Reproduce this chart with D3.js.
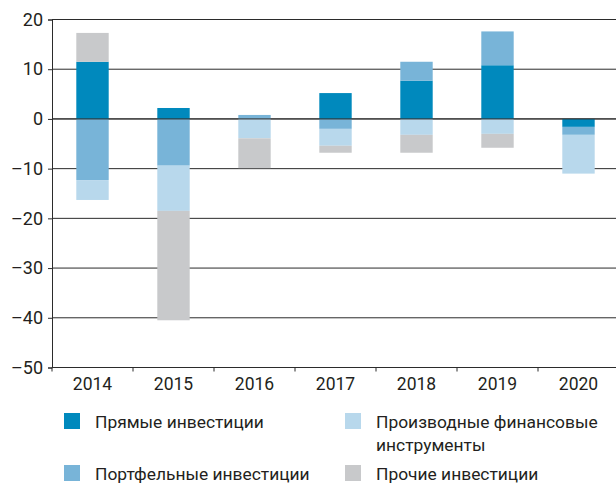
<!DOCTYPE html>
<html>
    <head>
        <meta charset="utf-8">
        <script src="https://cdn.jsdelivr.net/npm/d3@7/dist/d3.min.js"></script>
        <style>
            body { margin: 0; background: #fff; }
            text { font-family: Roboto, "Noto Sans", sans-serif; fill: #231f20; }
        </style>
    </head>
    <body>
        <svg width="616" height="484"></svg>
        <script>

        // data, bn USD
        var years = ["2014", "2015", "2016", "2017", "2018", "2019", "2020"];
        var direct      = [11.5,   2.2,  0.0,  5.2,  7.7, 10.8, -1.6];
        var portfolio   = [-12.3, -9.4,  0.8, -2.0,  3.8,  6.8, -1.6];
        var derivatives = [-4.0,  -9.1, -3.9, -3.4, -3.2, -3.0, -7.8];
        var other       = [5.8,  -22.0, -6.0, -1.4, -3.6, -2.8,  0.0];
        var yTicks = [20, 10, 0, -10, -20, -30, -40, -50];

        var seriesNames = ["Прямые инвестиции", "Портфельные инвестиции",
                           "Производные финансовые инструменты", "Прочие инвестиции"];
        var colors = ["#0089bd", "#78b4d8", "#b8d8ec", "#c8c9cb"];

        var keys = ["direct", "portfolio", "derivatives", "other"];
        var table = years.map(function(y, i) {
            return {year: y, direct: direct[i], portfolio: portfolio[i],
                    derivatives: derivatives[i], other: other[i]};
        });

        var svg = d3.select("svg");

        var x = d3.scaleBand()
            .domain(years)
            .range([52, 619])
            .paddingInner(0.6)
            .paddingOuter(0.3);

        var y = d3.scaleLinear()
            .domain([-50, 20])
            .range([367.5, 19.5]);

        var stack = d3.stack()
            .keys(keys)
            .offset(d3.stackOffsetDiverging);

        // grid lines
        svg.append("g")
            .selectAll("line")
            .data(yTicks)
            .enter().append("line")
              .attr("x1", 52)
              .attr("x2", 616)
              .attr("y1", function(d) { return y(d); })
              .attr("y2", function(d) { return y(d); })
              .attr("stroke", "#2b2b2b")
              .attr("stroke-width", 1);

        // bars
        svg.append("g")
            .selectAll("g")
            .data(stack(table))
            .enter().append("g")
              .attr("fill", function(d, i) { return colors[i]; })
            .selectAll("rect")
            .data(function(d) { return d; })
            .enter().append("rect")
              .attr("x", function(d) { return x(d.data.year); })
              .attr("width", x.bandwidth())
              .attr("y", function(d) { return y(Math.max(d[0], d[1])); })
              .attr("height", function(d) { return Math.abs(y(d[0]) - y(d[1])); });

        // zero line over the bars
        svg.append("line")
            .attr("x1", 52).attr("x2", 616)
            .attr("y1", y(0)).attr("y2", y(0))
            .attr("stroke", "#2b2b2b");

        // y axis
        var yAxis = svg.append("g")
            .attr("transform", "translate(52,0)")
            .call(d3.axisLeft(y).tickValues(yTicks).tickSize(4).tickPadding(5)
                .tickFormat(function(d) { return d < 0 ? "\u2013" + Math.abs(d) : d; }));
        yAxis.select(".domain").attr("stroke", "#2b2b2b");
        yAxis.selectAll(".tick line").attr("stroke", "#2b2b2b");
        yAxis.selectAll("text")
            .style("font-size", "18px")
            .attr("fill", "#231f20");

        // x axis: labels centred, ticks between years
        var xAxis = svg.append("g")
            .attr("transform", "translate(0," + y(-50) + ")")
            .call(d3.axisBottom(x).tickSize(0).tickPadding(10));
        xAxis.select(".domain").remove();
        xAxis.selectAll("text")
            .style("font-size", "17.5px")
            .attr("fill", "#231f20");

        var edge = x.step() * x.paddingOuter();
        svg.append("g")
            .selectAll("line")
            .data(years)
            .enter().append("line")
              .attr("x1", function(d) { return x(d) - edge; })
              .attr("x2", function(d) { return x(d) - edge; })
              .attr("y1", y(-50))
              .attr("y2", y(-50) + 4)
              .attr("stroke", "#2b2b2b");

        // legend
        var legendPos = [
            {x: 64, y: 413}, {x: 64, y: 465},
            {x: 345, y: 413}, {x: 345, y: 465}
        ];
        var legend = svg.append("g")
            .selectAll("g")
            .data(seriesNames)
            .enter().append("g")
              .attr("transform", function(d, i) {
                  return "translate(" + legendPos[i].x + "," + legendPos[i].y + ")";
              });

        legend.append("rect")
            .attr("width", 16)
            .attr("height", 16)
            .attr("fill", function(d, i) { return colors[i]; });

        legend.append("text")
            .attr("x", 31)
            .attr("y", 15)
            .style("font-size", "17.4px")
            .each(function(d) {
                var t = d3.select(this);
                var lines = d === seriesNames[2] ? ["Производные финансовые", "инструменты"] : [d];
                lines.forEach(function(l, k) {
                    t.append("tspan").attr("x", 31).attr("dy", k ? 23 : 0).text(l);
                });
            });

        </script>
    </body>
</html>
